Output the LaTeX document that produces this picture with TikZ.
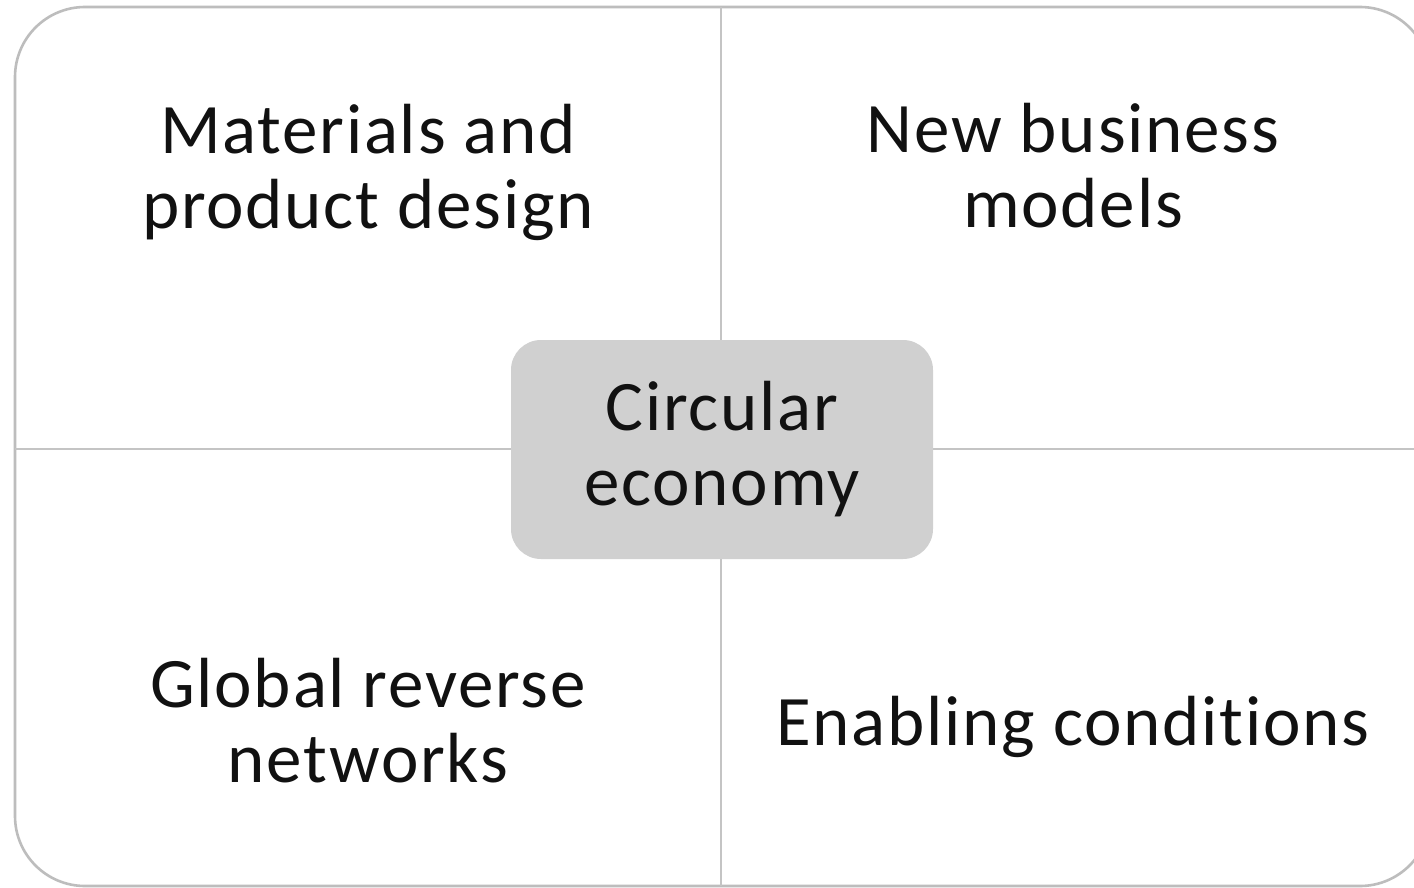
\documentclass[tikz,border=0pt]{standalone}
\usepackage{fontspec}
\setmainfont[LetterSpace=2.5, Ligatures=NoCommon]{Carlito}
\definecolor{framegray}{HTML}{BDBDBD}
\definecolor{linegray}{HTML}{C4C4C4}
\definecolor{boxgray}{HTML}{D0D0D0}
\definecolor{txt}{HTML}{111111}
\tikzset{
  lbl/.style={align=center, text=txt, font=\fontsize{35.5}{37.5}\selectfont, inner sep=0pt},
  hub/.style={lbl, fill=boxgray, rounded corners=15pt, minimum width=211pt, minimum height=109.5pt},
}
\begin{document}
\begin{tikzpicture}[x=0.5pt, y=-0.5pt]
\useasboundingbox (0,0) rectangle (1414,888);
\clip (0,0) rectangle (1414,888);
\fill[white] (0,0) rectangle (1414,888);
\draw[framegray, line width=1.3pt, rounded corners=35pt] (15,7) rectangle (1430,886);
\draw[linegray, line width=1pt] (721,7) -- (721,886);
\draw[linegray, line width=1pt] (15,449) -- (1430,449);
\node[hub] (ce) at (722,449.5) {Circular\\economy};
\node[lbl] (mat) at (368,172.5) {Materials and\\product design};
\node[lbl] (nbm) at (1073,166) {New business\\models};
\node[lbl] (grn) at (368,721) {Global reverse\\networks};
\node[lbl] (enc) at (1073,727) {Enabling conditions};
\end{tikzpicture}
\end{document}
